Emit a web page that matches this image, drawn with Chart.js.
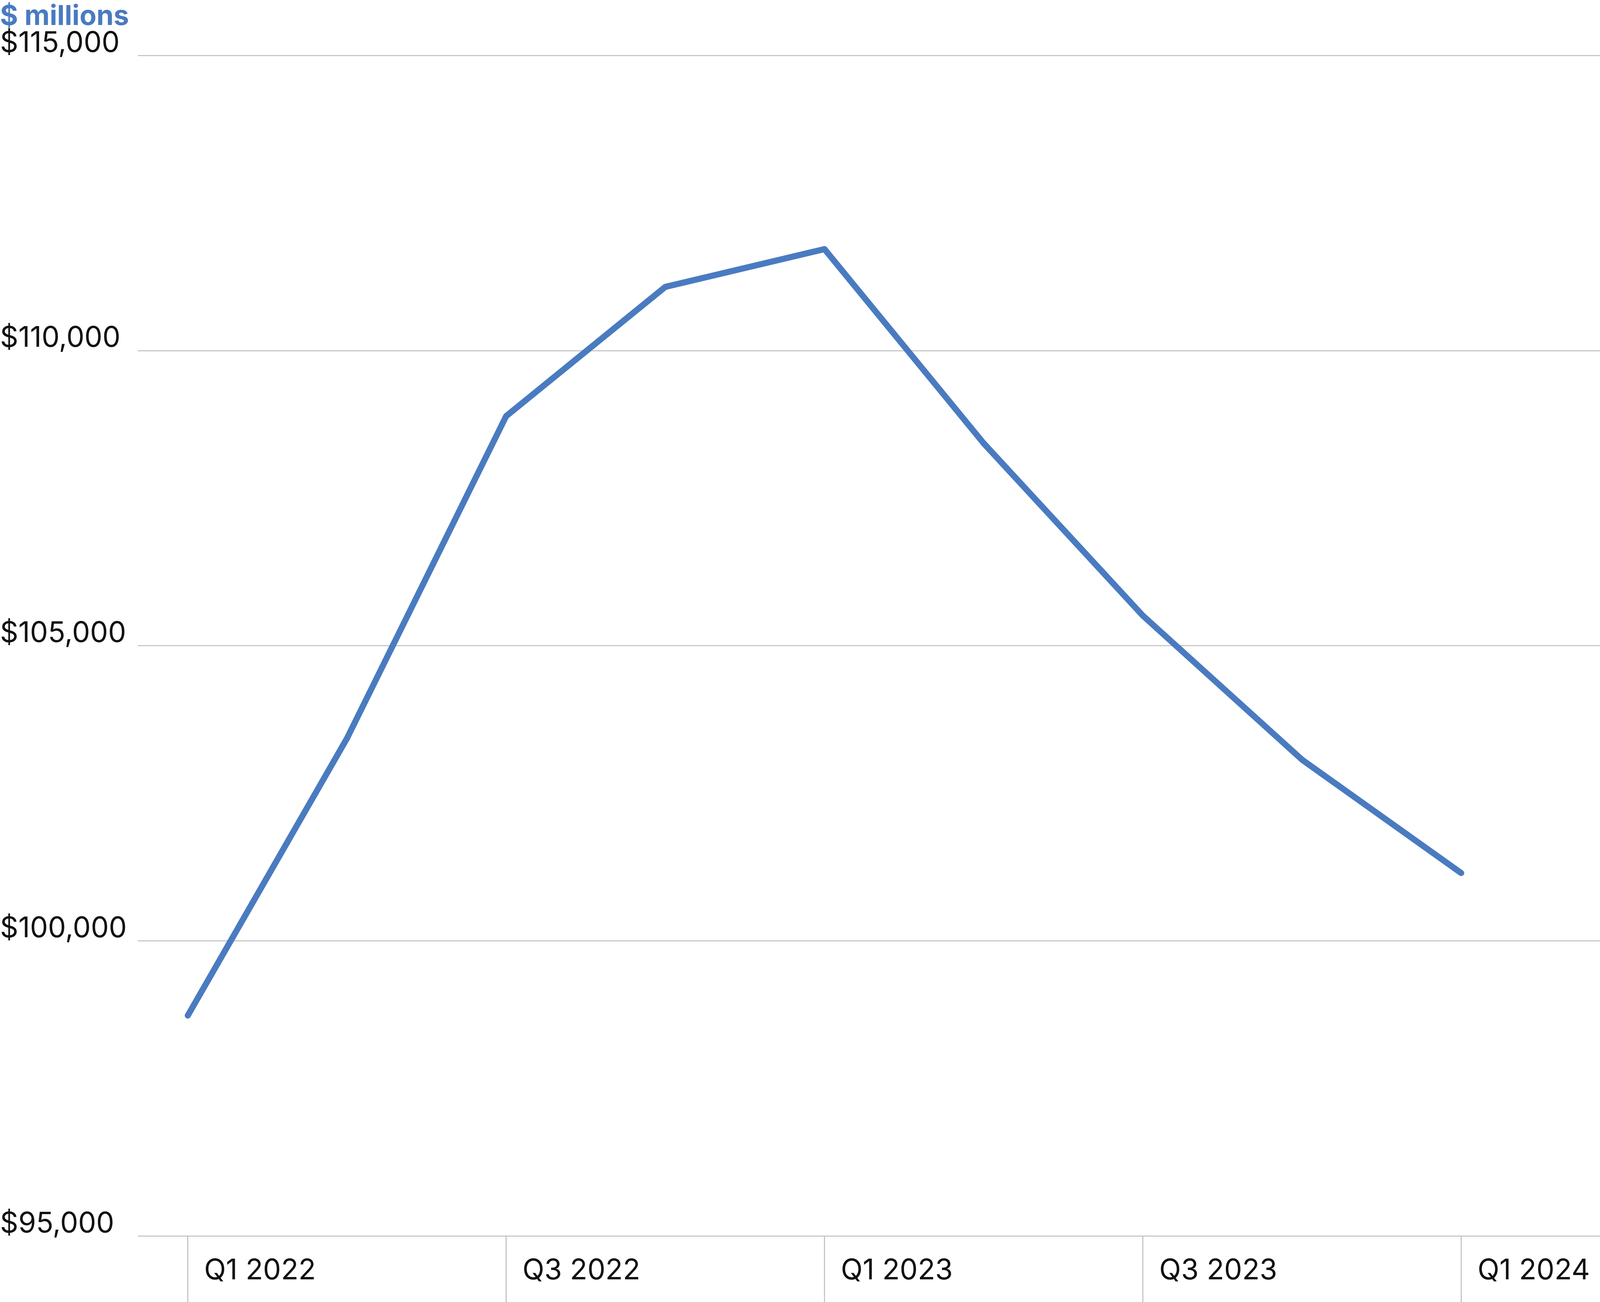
<!DOCTYPE html>
<html><head><meta charset="utf-8">
<script src="https://cdn.jsdelivr.net/npm/chart.js@4"></script>
<style>html,body{margin:0;padding:0;background:#fff;overflow:hidden}#w{width:100vw;height:100vh}canvas{display:block}</style>
</head><body>
<div id="w"><canvas id="c"></canvas></div>
<script>
const categories = ['Q1 2022','Q2 2022','Q3 2022','Q4 2022','Q1 2023','Q2 2023','Q3 2023','Q4 2023','Q1 2024'];
const values = [98735, 103430, 108890, 111080, 111720, 108430, 105510, 103070, 101150];
const yTicks = [95000, 100000, 105000, 110000, 115000];
const xTickIdx = [0, 2, 4, 6, 8];

const S = window.innerWidth / 1568;

const tickLines = {
  id: 'tickLines',
  afterDraw(chart) {
    const ctx = chart.ctx, xs = chart.scales.x, a = chart.chartArea;
    ctx.save(); ctx.strokeStyle = '#bfbfbf'; ctx.lineWidth = 1 * S;
    xTickIdx.forEach(i => {
      const px = xs.getPixelForValue(i);
      ctx.beginPath(); ctx.moveTo(px, a.bottom); ctx.lineTo(px, chart.height); ctx.stroke();
    });
    ctx.restore();
  }
};

new Chart(document.getElementById('c'), {
  type: 'line',
  data: { datasets: [{ data: values.map((v, i) => ({ x: i, y: v })), borderColor: '#4a7bc0', borderWidth: 6 * S, pointRadius: 0, tension: 0, borderCapStyle: 'round', borderJoinStyle: 'round' }] },
  options: {
    responsive: true, maintainAspectRatio: false, animation: false,
    layout: { padding: 0 },
    plugins: {
      legend: { display: false }, tooltip: { enabled: false },
      title: { display: true, text: '$ millions', align: 'start', color: '#4a7bc0', font: { family: 'Inter', size: 27 * S, weight: 'bold' }, padding: { top: 0, bottom: 22 * S } }
    },
    scales: {
      x: {
        type: 'linear', min: (135 - 184) / 156, max: (1568 - 184) / 156,
        afterBuildTicks: s => { s.ticks = xTickIdx.map(v => ({ value: v })); },
        grid: { display: false }, border: { display: false },
        ticks: { callback: v => categories[v], align: 'start', labelOffset: 16 * S, padding: 14 * S, color: '#111', font: { family: 'Inter', size: 28 * S }, maxRotation: 0, autoSkip: false }
      },
      y: {
        min: 95000, max: 115000,
        afterBuildTicks: s => { s.ticks = yTicks.map(v => ({ value: v })); },
        afterFit: s => { s.width = 135 * S; },
        grid: { color: '#bfbfbf', lineWidth: 1 * S, drawTicks: false }, border: { display: false },
        ticks: { callback: v => '$' + v.toLocaleString('en-US'), crossAlign: 'far', padding: 0, labelOffset: -12 * S, color: '#111', font: { family: 'Inter', size: 28 * S } }
      }
    }
  },
  plugins: [tickLines]
});
</script></body></html>
